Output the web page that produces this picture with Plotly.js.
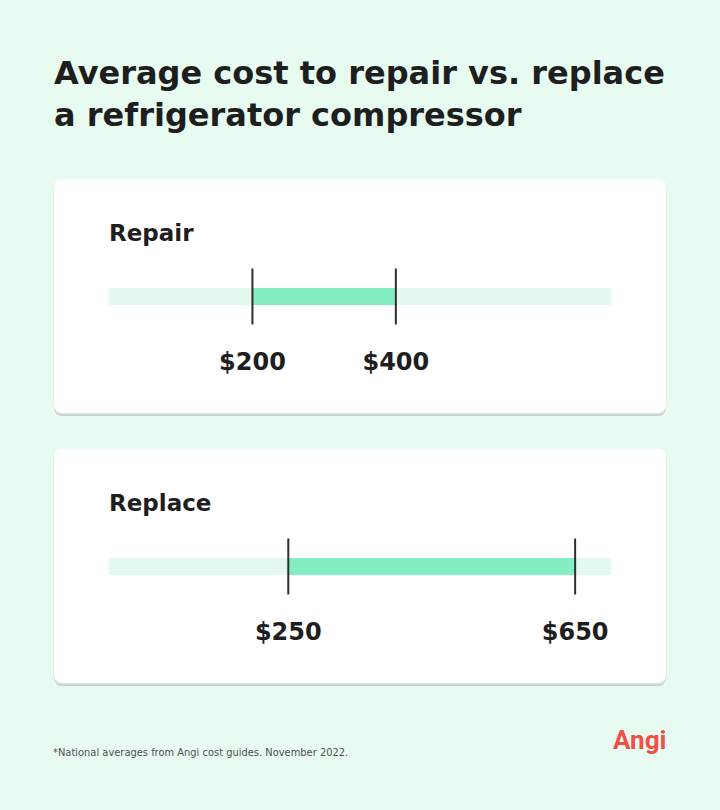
<!DOCTYPE html>
<html><head><meta charset="utf-8">
<script src="https://cdn.plot.ly/plotly-3.0.1.min.js"></script>
<style>html,body{margin:0;padding:0;background:#e7fbf1;}</style>
</head><body><div id="chart" style="width:720px;height:810px;"></div>
<script>
// ---- data ----
const categories = ["Repair", "Replace"];
const lowCost = [200, 250];
const highCost = [400, 650];
const scaleMin = 0;
const scaleMax = 700;
const titleText = "Average cost to repair vs. replace<br>a refrigerator compressor";
const footnote = "*National averages from Angi cost guides. November 2022.";
const brand = "Angi";

// ---- styling / layout helpers ----
const W = 720, H = 810;
const px = x => x / W;
const py = y => 1 - y / H;
const BG = "#e7fbf1", TRACK = "#e3f9ee", RANGE = "#83efc0", TICK = "#2e2e2e", INK = "#1e1e1e";
const FONT = "DejaVu Sans";
const cardTop = [179, 449], cardH = 234, cardL = 54, cardR = 666;
const rowCenter = [296.5, 566.5];
const unitPx = 80;        // pixels per y unit
const barPx = 17;

function roundRect(x0, y0, x1, y1, r) {
  const X = v => px(v).toFixed(5), Y = v => py(v).toFixed(5);
  return `M${X(x0 + r)},${Y(y0)} L${X(x1 - r)},${Y(y0)} Q${X(x1)},${Y(y0)} ${X(x1)},${Y(y0 + r)} ` +
         `L${X(x1)},${Y(y1 - r)} Q${X(x1)},${Y(y1)} ${X(x1 - r)},${Y(y1)} L${X(x0 + r)},${Y(y1)} ` +
         `Q${X(x0)},${Y(y1)} ${X(x0)},${Y(y1 - r)} L${X(x0)},${Y(y0 + r)} Q${X(x0)},${Y(y0)} ${X(x0 + r)},${Y(y0)} Z`;
}

const traces = [];
const shapes = [];
const annotations = [];
const layout = {
  width: W, height: H,
  margin: {l: 0, r: 0, t: 0, b: 0},
  paper_bgcolor: BG, plot_bgcolor: "rgba(0,0,0,0)",
  showlegend: false, barmode: "overlay",
  hovermode: false,
  title: {
    text: titleText, x: 54 / W, xanchor: "left", xref: "paper",
    y: 1 - 84 / H, yanchor: "top", yref: "container",
    font: {family: FONT, size: 32, weight: 700, color: INK}
  },
  shapes: shapes, annotations: annotations
};

categories.forEach((cat, i) => {
  const sfx = i === 0 ? "" : String(i + 1);
  const xa = "x" + sfx, ya = "y" + sfx;
  const top = cardTop[i];
  // card shadow + card
  shapes.push({type: "path", xref: "paper", yref: "paper", layer: "below",
    path: roundRect(cardL, top + 3, cardR, top + cardH + 3, 9),
    fillcolor: "#c4d0ca", line: {width: 0}});
  shapes.push({type: "path", xref: "paper", yref: "paper", layer: "below",
    path: roundRect(cardL - 0.5, top + 1.5, cardR + 0.5, top + cardH + 1.5, 9),
    fillcolor: "#d7e3dd", line: {width: 0}});
  shapes.push({type: "path", xref: "paper", yref: "paper", layer: "below",
    path: roundRect(cardL, top, cardR, top + cardH, 9),
    fillcolor: "#ffffff", line: {width: 0}});

  const c = rowCenter[i];
  layout["xaxis" + sfx] = {domain: [px(109), px(611)], range: [scaleMin, scaleMax],
    visible: false, fixedrange: true, anchor: ya};
  layout["yaxis" + sfx] = {domain: [py(c + unitPx), py(c - unitPx)], range: [-1, 1],
    visible: false, fixedrange: true, anchor: xa};

  const bw = barPx / unitPx;
  traces.push({type: "bar", orientation: "h", xaxis: xa, yaxis: ya,
    x: [scaleMax - scaleMin], base: [scaleMin], y: [0], width: [bw],
    marker: {color: TRACK}, hoverinfo: "skip"});
  traces.push({type: "bar", orientation: "h", xaxis: xa, yaxis: ya,
    x: [highCost[i] - lowCost[i]], base: [lowCost[i]], y: [0], width: [bw],
    marker: {color: RANGE}, hoverinfo: "skip"});
  traces.push({type: "scatter", mode: "markers", xaxis: xa, yaxis: ya,
    x: [lowCost[i], highCost[i]], y: [0, 0],
    marker: {symbol: "line-ns", size: 40, line: {width: 2, color: TICK}, color: TICK},
    hoverinfo: "skip"});
  traces.push({type: "scatter", mode: "text", xaxis: xa, yaxis: ya,
    x: [lowCost[i], highCost[i]], y: [-0.84, -0.84],
    text: ["$" + lowCost[i], "$" + highCost[i]],
    textposition: "middle center",
    textfont: {family: FONT, size: 24, weight: 700, color: INK},
    hoverinfo: "skip"});

  annotations.push({text: cat, xref: "paper", yref: "paper",
    x: px(107), y: py(top + 54), xanchor: "left", yanchor: "middle", showarrow: false,
    font: {family: FONT, size: 23, weight: 700, color: INK}});
});

annotations.push({text: footnote, xref: "paper", yref: "paper",
  x: px(51), y: py(752), xanchor: "left", yanchor: "middle", showarrow: false,
  font: {family: "DejaVu Sans Condensed", size: 11, color: "#505050"}});
annotations.push({text: brand, xref: "paper", yref: "paper",
  x: px(668), y: py(740), xanchor: "right", yanchor: "middle", showarrow: false,
  font: {family: "Roboto", size: 26, weight: 700, color: "#ef5146"}});

Plotly.newPlot("chart", traces, layout, {displayModeBar: false, staticPlot: true});
</script></body></html>
